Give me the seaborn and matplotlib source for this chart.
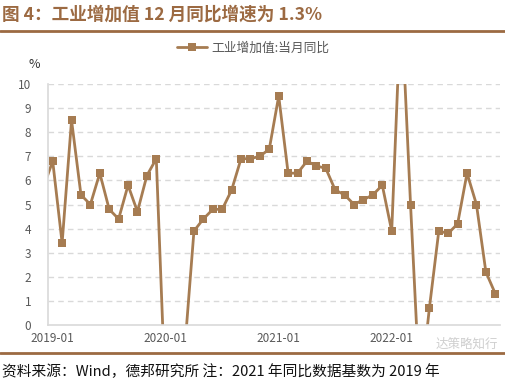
import numpy as np
import pandas as pd
import matplotlib
matplotlib.use('Agg')
import matplotlib.pyplot as plt
import seaborn as sns

# monthly data, 2018-12 .. 2022-12 (2020-01 not published)
months = pd.period_range('2018-12', '2022-12', freq='M').strftime('%Y-%m').tolist()
vals_2018 = [5.7]
vals_2019 = [6.8, 3.4, 8.5, 5.4, 5.0, 6.3, 4.8, 4.4, 5.8, 4.7, 6.2, 6.9]
vals_2020 = [np.nan, -13.5, -1.1, 3.9, 4.4, 4.8, 4.8, 5.6, 6.9, 6.9, 7.0, 7.3]
vals_2021 = [9.5, 6.3, 6.3, 6.8, 6.6, 6.5, 5.6, 5.4, 5.0, 5.2, 5.4, 5.8]
vals_2022 = [3.9, 13.5, 5.0, -2.9, 0.7, 3.9, 3.8, 4.2, 6.3, 5.0, 2.2, 1.3]
series_name = '工业增加值:当月同比'
tick_labels = ['2019-01', '2020-01', '2021-01', '2022-01']

df = pd.DataFrame({'month': months,
                   'value': vals_2018 + vals_2019 + vals_2020 + vals_2021 + vals_2022})
df['idx'] = np.arange(len(df)) - 1
tick_pos = [int(df.loc[df.month == t, 'idx'].iloc[0]) for t in tick_labels]
df = df.dropna()

sns.set_theme(style='white')
plt.rcParams['font.family'] = ['Noto Sans CJK SC', 'DejaVu Sans']
plt.rcParams['axes.unicode_minus'] = False

line_c = '#a67c52'
brown = '#9c6a42'
grey = '#595959'

fig = plt.figure(figsize=(5.06, 3.84), dpi=100)
ax = fig.add_axes([48 / 506, 1 - 325 / 384, 452 / 506, 241 / 384])
sns.lineplot(data=df, x='idx', y='value', ax=ax, color=line_c, lw=2.0,
             marker='s', markersize=5.5, markeredgewidth=0, label=series_name,
             legend=False)
ax.set_xlim(-0.5, 47.5)
ax.set_ylim(0, 10)
ax.set_yticks(range(0, 11))
ax.set_yticklabels([str(v) for v in range(0, 11)], color=grey, fontsize=8.5)
ax.set_xticks(tick_pos)
ax.set_xticklabels(tick_labels, color=grey, fontsize=8.5)
ax.set_xticks([p - 0.5 for p in tick_pos] + [47.5], minor=True)
ax.tick_params(axis='x', which='major', length=0, pad=5)
ax.tick_params(axis='x', which='minor', length=4, color='#d0d0d0', width=1)
ax.tick_params(axis='y', length=0, pad=12)
ax.set_xlabel('')
ax.set_ylabel('')
for v in range(1, 11):
    ax.axhline(v, color='#d9d9d9', lw=1, ls=(0, (4, 3)), zorder=0)
for s in ['top', 'right']:
    ax.spines[s].set_visible(False)
for s in ['left', 'bottom']:
    ax.spines[s].set_color('#d9d9d9')
    ax.spines[s].set_linewidth(1.2)
ax.text(-1.35, 10.55, '%', fontsize=9, color='#333333', ha='right', va='bottom',
        clip_on=False)

h, l = ax.get_legend_handles_labels()
fig.legend(h, l, loc='center', bbox_to_anchor=(0.5, 1 - 48 / 384), frameon=False,
           fontsize=9.2, labelcolor=grey, handlelength=2.4, handletextpad=0.3)

fig.text(2 / 506, 1 - 15 / 384, '图 4：工业增加值 12 月同比增速为 1.3%', fontsize=12.7,
         fontweight='bold', color=brown, ha='left', va='center')
fig.add_artist(plt.Line2D([0, 1], [1 - 31 / 384] * 2, color=brown, lw=2))
fig.add_artist(plt.Line2D([0, 1], [1 - 353 / 384] * 2, color=brown, lw=2))
fig.text(2 / 506, 1 - 372 / 384, '资料来源：Wind，德邦研究所 注：2021 年同比数据基数为 2019 年',
         fontsize=10.6, color='#111111', ha='left', va='center')
fig.text(498 / 506, 1 - 344 / 384, '达策略知行', fontsize=9, color='#cfcfcf',
         ha='right', va='center')

fig.savefig('out.png', dpi=100)
